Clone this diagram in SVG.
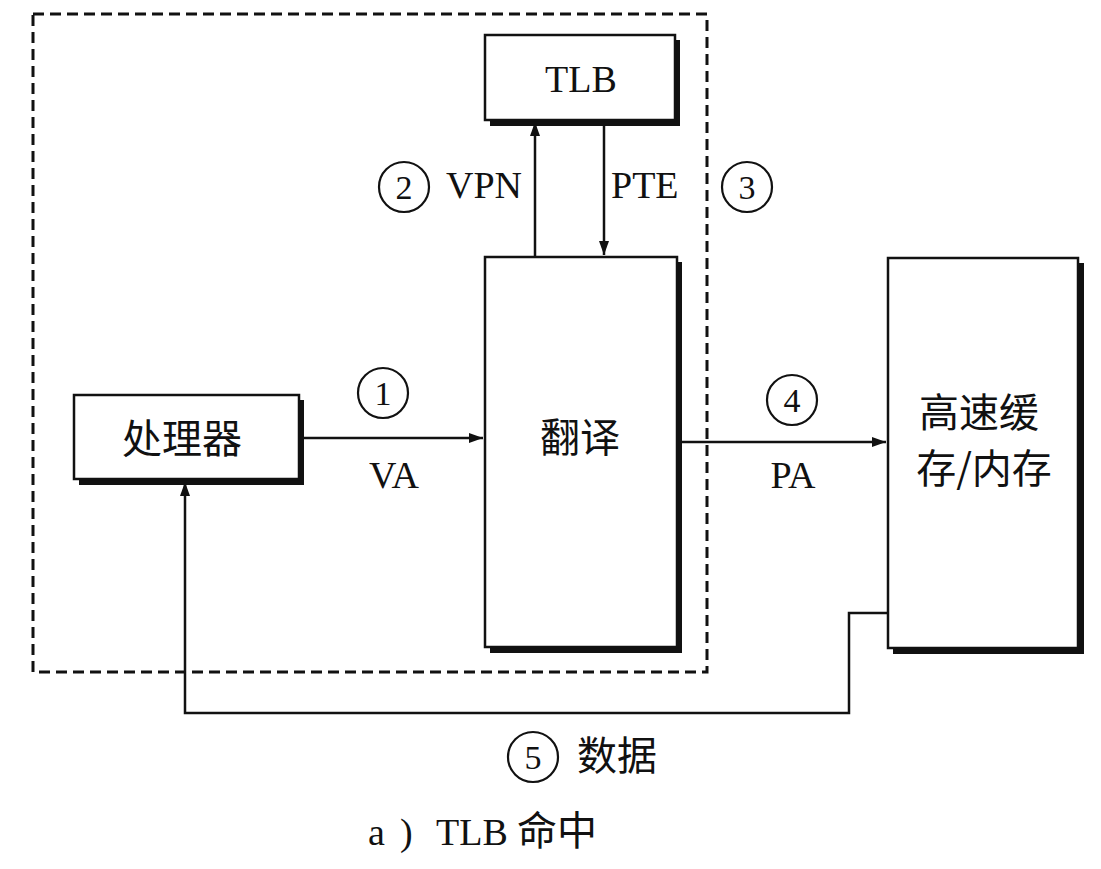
<svg xmlns="http://www.w3.org/2000/svg" width="1101" height="869" viewBox="0 0 1101 869">
<defs>
<style>
.box{fill:#fff;stroke:#111;stroke-width:2.5}
.sh{fill:#111}
.ln{fill:none;stroke:#111;stroke-width:2.5}
.dash{fill:none;stroke:#111;stroke-width:3;stroke-dasharray:11,6}
.lat{font-family:"Liberation Serif","DejaVu Serif",serif;font-size:38px;fill:#111}
.cjk{font-family:"Noto Sans CJK SC","Noto Sans",sans-serif;font-size:40px;fill:#111}
.num{fill:none;stroke:#111;stroke-width:2.2}
.dg{font-family:"Liberation Serif","DejaVu Serif",serif;font-size:34px;fill:#111;text-anchor:middle}
</style>
<marker id="ahl" viewBox="0 0 14 10" refX="14" refY="5" markerWidth="14" markerHeight="10" markerUnits="userSpaceOnUse" orient="auto"><path d="M0,0 L14,5 L0,10 z" fill="#111"/></marker>
</defs>
<rect width="1101" height="869" fill="#fff"/>
<rect class="dash" x="33" y="14" width="674" height="658"/>
<g id="connectors">
<line class="ln" x1="300" y1="438" x2="483" y2="438" marker-end="url(#ahl)"/>
<line class="ln" x1="535" y1="257" x2="535" y2="122" marker-end="url(#ahl)"/>
<line class="ln" x1="604" y1="122" x2="604" y2="255" marker-end="url(#ahl)"/>
<line class="ln" x1="677" y1="442" x2="886" y2="442" marker-end="url(#ahl)"/>
<polyline class="ln" points="888,613 849,613 849,713 185,713 185,482" marker-end="url(#ahl)"/>
</g>
<g id="tlb">
<rect class="sh" x="490" y="40" width="190" height="86"/>
<rect class="box" x="485" y="35" width="190" height="85"/>
<text class="lat" x="581" y="92" text-anchor="middle">TLB</text>
</g>
<g id="translate">
<rect class="sh" x="490" y="262" width="192" height="391"/>
<rect class="box" x="485" y="257" width="192" height="390"/>
<text class="cjk" x="580" y="452" text-anchor="middle">翻译</text>
</g>
<g id="processor">
<rect class="sh" x="79" y="400" width="225" height="85"/>
<rect class="box" x="74" y="395" width="225" height="84"/>
<text class="cjk" x="182" y="453" text-anchor="middle">处理器</text>
</g>
<g id="memory">
<rect class="sh" x="893" y="263" width="191" height="391"/>
<rect class="box" x="888" y="258" width="190" height="390"/>
<text class="cjk" x="979" y="427" text-anchor="middle" font-size="38">高速缓</text>
<text class="cjk" x="984" y="483" text-anchor="middle" font-size="38">存/内存</text>
</g>
<g id="labels">
<circle class="num" cx="383" cy="393" r="25"/><text class="dg" x="383" y="405">1</text>
<text class="lat" x="394" y="488" text-anchor="middle">VA</text>
<circle class="num" cx="792" cy="400" r="25"/><text class="dg" x="792" y="412">4</text>
<text class="lat" x="793" y="488" text-anchor="middle">PA</text>
<circle class="num" cx="404" cy="187" r="25"/><text class="dg" x="404" y="199">2</text>
<text class="lat" x="446" y="198">VPN</text>
<text class="lat" x="611" y="198">PTE</text>
<circle class="num" cx="747" cy="187" r="25"/><text class="dg" x="747" y="199">3</text>
<circle class="num" cx="533" cy="757" r="25"/><text class="dg" x="533" y="769">5</text>
<text class="cjk" x="577" y="770">数据</text>
<text class="lat" x="368" y="845" font-size="36">a</text>
<text class="lat" x="400" y="845" font-size="36">)</text>
<text class="lat" x="436" y="845" font-size="31">TLB</text>
<text class="cjk" x="517" y="845" font-size="41">命中</text>
</g>
</svg>
